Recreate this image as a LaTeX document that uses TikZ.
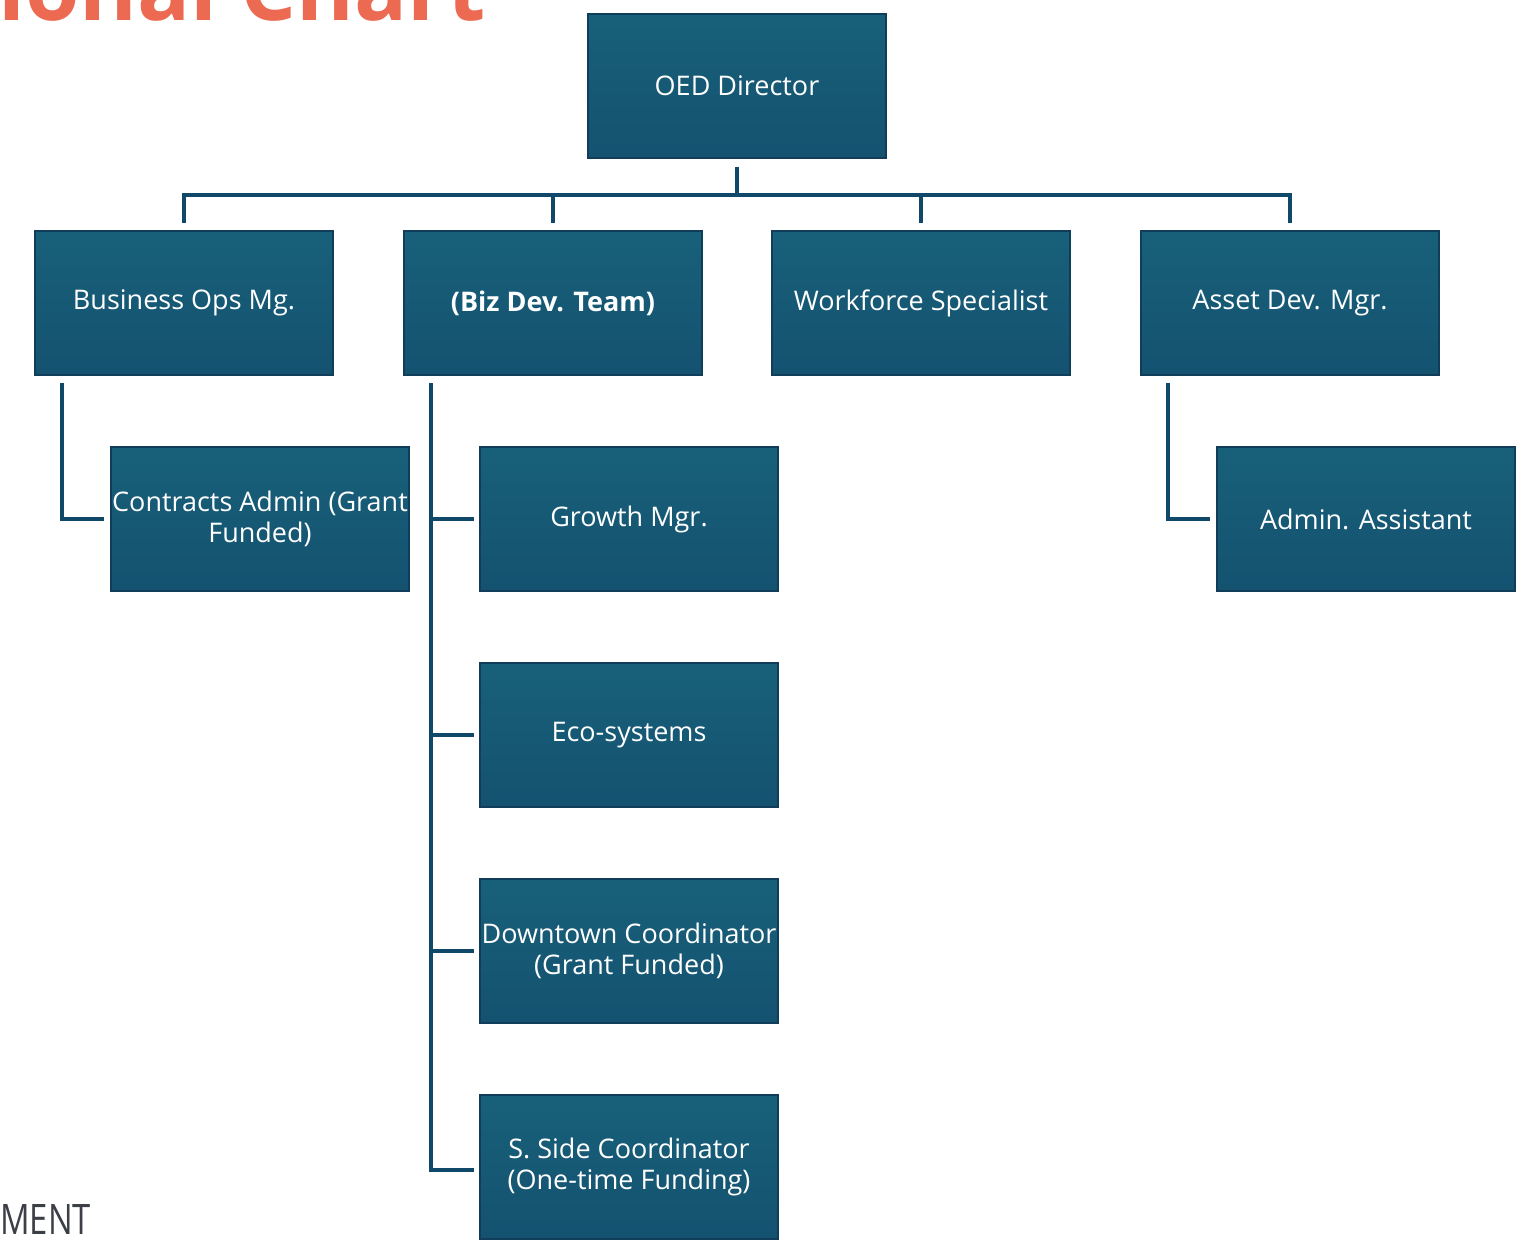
\documentclass[tikz,border=0pt]{standalone}
\usepackage{fontspec}
\setmainfont{Open Sans}
\newfontfamily\titlefont{Open Sans}
\definecolor{boxtop}{RGB}{24,96,122}
\definecolor{boxmid}{RGB}{28,95,134}
\definecolor{boxbot}{RGB}{20,82,112}
\definecolor{boxedge}{RGB}{16,62,90}
\definecolor{connc}{RGB}{15,72,104}
\definecolor{titlec}{RGB}{236,106,82}
\definecolor{mentc}{RGB}{60,64,70}
\begin{document}
\begin{tikzpicture}[x=0.5pt,y=-0.5pt,
  box/.style={draw=boxedge, line width=1.2pt, top color=boxtop, middle color=boxmid, bottom color=boxbot,
    minimum width=149pt, minimum height=72pt, inner sep=0pt, text=white,
    font=\fontsize{13.5}{15.8}\selectfont, align=center},
  conn/.style={draw=connc, line width=2pt}]
\clip (0,0) rectangle (1534,1242);
\useasboundingbox (0,0) rectangle (1534,1242);
\fill[white] (0,0) rectangle (1534,1242);
% title fragments
\node[anchor=base east, inner sep=0pt, text=titlec, font=\titlefont\bfseries\fontsize{44}{50}\selectfont] (title) at (486,20) {tional Chart};
\node[anchor=base west, inner sep=0pt, text=mentc, font=\fontsize{21}{24}\selectfont, xscale=0.78] (ment) at (0,1234) {MENT};
% boxes
\node[box] (oed) at (737,86) {OED Director};
\node[box] (bops) at (184,303) {Business Ops Mg.};
\node[box] (biz) at (553,303) {\bfseries (Biz Dev. Team)};
\node[box] (wf) at (921,303) {Workforce Specialist};
\node[box] (asset) at (1290,303) {Asset Dev. Mgr.};
\node[box] (contracts) at (260,519) {Contracts Admin (Grant\\Funded)};
\node[box] (growth) at (629,519) {Growth Mgr.};
\node[box] (admin) at (1366,519) {Admin. Assistant};
\node[box] (eco) at (629,735) {Eco-systems};
\node[box] (down) at (629,951) {Downtown Coordinator\\(Grant Funded)};
\node[box] (sside) at (629,1167) {S. Side Coordinator\\(One-time Funding)};
% top connectors
\coordinate (bus) at (737,195);
\coordinate (bopsdrop) at (62,383);
\coordinate (bizdrop) at (431,383);
\coordinate (assetdrop) at (1168,383);
\draw[conn] ([yshift=-4pt]oed.south) -- (oed.south |- bus);
\draw[conn] ([yshift=3.5pt]bops.north) |- (asset.north |- bus) -- ([yshift=3.5pt]asset.north);
\draw[conn] ([yshift=3.5pt]biz.north) -- (biz.north |- bus);
\draw[conn] ([yshift=3.5pt]wf.north) -- (wf.north |- bus);
% sub connectors
\draw[conn] (bopsdrop) |- ([xshift=-3pt]contracts.west);
\draw[conn] (assetdrop) |- ([xshift=-3pt]admin.west);
\draw[conn] (bizdrop) |- ([xshift=-2.5pt]sside.west |- 0,1170);
\draw[conn] (bizdrop |- growth.west) -- ([xshift=-2.5pt]growth.west);
\draw[conn] (bizdrop |- eco.west) -- ([xshift=-2.5pt]eco.west);
\draw[conn] (bizdrop |- down.west) -- ([xshift=-2.5pt]down.west);
\end{tikzpicture}
\end{document}
